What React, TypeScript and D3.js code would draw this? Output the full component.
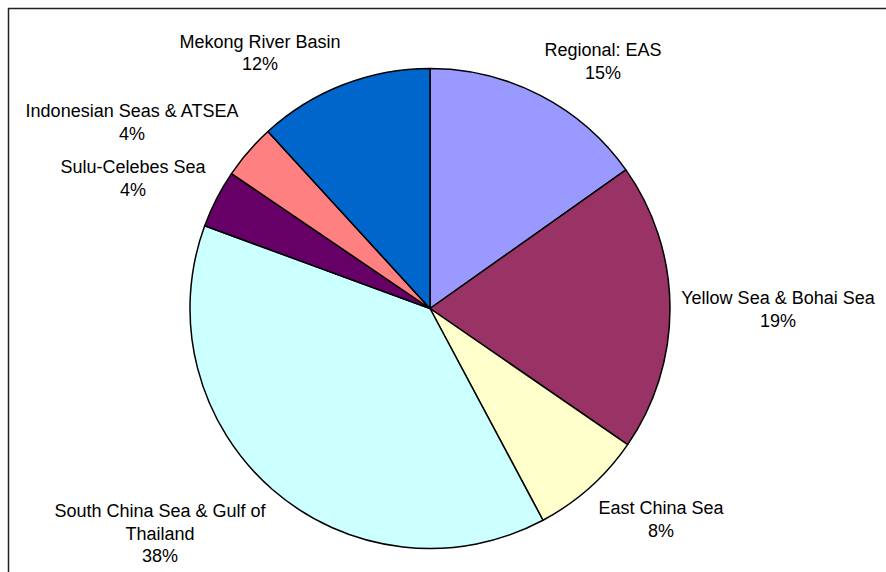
import React from "react";
import * as d3 from "d3";

const categories = [
  "Regional: EAS",
  "Yellow Sea & Bohai Sea",
  "East China Sea",
  "South China Sea & Gulf of Thailand",
  "Sulu-Celebes Sea",
  "Indonesian Seas & ATSEA",
  "Mekong River Basin",
];
const values = [15.2, 19.4, 7.6, 38.4, 3.9, 3.7, 11.8];
const percentLabels = ["15%", "19%", "8%", "38%", "4%", "4%", "12%"];
const colors = ["#9999FF", "#993366", "#FFFFCC", "#CCFFFF", "#660066", "#FF8080", "#0066CC"];
// label lines (category text wrapped as in the original)
const labelLines = [
  ["Regional: EAS"],
  ["Yellow Sea & Bohai Sea"],
  ["East China Sea"],
  ["South China Sea & Gulf of", "Thailand"],
  ["Sulu-Celebes Sea"],
  ["Indonesian Seas & ATSEA"],
  ["Mekong River Basin"],
];
// label anchor positions (center x, first baseline y)
const labelPos: [number, number][] = [
  [603, 56],
  [778, 304],
  [661, 514],
  [160, 517],
  [133, 173],
  [132, 117],
  [260, 47.5],
];

export default function App() {
  const W = 886;
  const H = 572;
  const cx = 430;
  const cy = 308.5;
  const r = 240;
  const pie = d3.pie<number>().sort(null).value((d) => d);
  const arcs = pie(values);
  const arc = d3.arc<d3.PieArcDatum<number>>().innerRadius(0).outerRadius(r);
  const lh = 22.5;
  return (
    <svg
      width={W}
      height={H}
      style={{ position: "absolute", left: 0, top: 0, display: "block" }}
      fontFamily="'Liberation Sans', Arial, sans-serif"
    >
      <rect x={0} y={0} width={W} height={H} fill="#fff" />
      <rect x={8.5} y={8.5} width={W + 20} height={H + 20} fill="none" stroke="#222" strokeWidth={1.5} />
      <g transform={`translate(${cx},${cy})`}>
        {arcs.map((a, i) => (
          <path key={categories[i]} d={arc(a) || ""} fill={colors[i]} stroke="#000" strokeWidth={1.5} strokeLinejoin="round" />
        ))}
      </g>
      {categories.map((c, i) => {
        const [x, y] = labelPos[i];
        const lines = [...labelLines[i], percentLabels[i]];
        return (
          <text key={c} x={x} y={y} textAnchor="middle" fontSize={18} fill="#000">
            {lines.map((l, j) => (
              <tspan key={j} x={x} y={y + j * lh}>
                {l}
              </tspan>
            ))}
          </text>
        );
      })}
    </svg>
  );
}
